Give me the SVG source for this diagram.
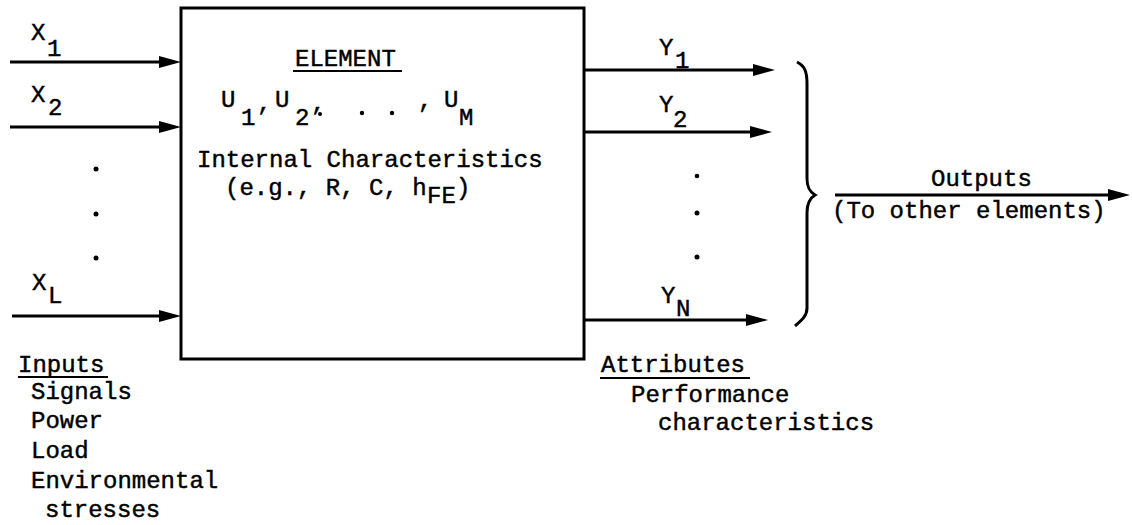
<svg xmlns="http://www.w3.org/2000/svg" width="1132" height="525" viewBox="0 0 1132 525">
  <style>
    .t { font-family: "Liberation Mono", "Courier New", monospace; font-size: 24px; fill: #000; stroke: #000; stroke-width: 0.45px; }
    .ln { stroke: #000; stroke-width: 3; fill: none; }
    .ul { stroke: #000; stroke-width: 2.2; }
    .dot { fill: #000; }
  </style>
  <defs>
    <marker id="ah" markerUnits="userSpaceOnUse" markerWidth="24" markerHeight="14" refX="10" refY="7" orient="auto">
      <path d="M0,1 L22,7 L0,13 Z" fill="#000"/>
    </marker>
  </defs>

  <rect width="1132" height="525" fill="#fff"/>

  <!-- the element block with its internal characteristics -->
  <g id="element">
    <rect x="181" y="8" width="403" height="351" class="ln"/>
    <text class="t" x="295" y="66">ELEMENT</text>
    <line class="ul" x1="293" y1="71" x2="402" y2="71"/>
    <text class="t" x="221" y="107">U</text>
    <text class="t" x="241" y="125">1’</text>
    <text class="t" x="275" y="107">U</text>
    <text class="t" x="295" y="125">2’</text>
    <circle class="dot" cx="320" cy="114" r="2"/>
    <circle class="dot" cx="362" cy="113" r="2.2"/>
    <circle class="dot" cx="392" cy="113" r="2.2"/>
    <text class="t" x="418" y="108">,</text>
    <text class="t" x="444" y="107">U</text>
    <text class="t" x="459" y="125">M</text>
    <text class="t" x="197" y="167">Internal Characteristics</text>
    <text class="t" x="225" y="195">(e.g., R, C, h</text>
    <text class="t" x="427" y="203">FE</text>
    <text class="t" x="456" y="195">)</text>
  </g>

  <!-- inputs on the left -->
  <g id="inputs">
    <text class="t" x="31" y="40">X</text>
    <text class="t" x="47" y="56">1</text>
    <text class="t" x="31" y="102">X</text>
    <text class="t" x="48" y="115">2</text>
    <circle class="dot" cx="96" cy="169" r="2.5"/>
    <circle class="dot" cx="96" cy="214" r="2.5"/>
    <circle class="dot" cx="96" cy="258" r="2.5"/>
    <text class="t" x="32" y="290">X</text>
    <text class="t" x="48" y="303">L</text>
    <text class="t" x="18" y="372">Inputs</text>
    <line class="ul" x1="18" y1="377" x2="108" y2="377"/>
    <text class="t" x="31" y="399">Signals</text>
    <text class="t" x="31" y="428">Power</text>
    <text class="t" x="31" y="458">Load</text>
    <text class="t" x="31" y="488">Environmental</text>
    <text class="t" x="45" y="517">stresses</text>
  </g>

  <!-- attributes on the right -->
  <g id="attributes">
    <text class="t" x="659" y="55">Y</text>
    <text class="t" x="675" y="68">1</text>
    <text class="t" x="659" y="112">Y</text>
    <text class="t" x="673" y="127">2</text>
    <circle class="dot" cx="697" cy="176" r="2.3"/>
    <circle class="dot" cx="697" cy="213" r="2.5"/>
    <circle class="dot" cx="697" cy="257" r="2.5"/>
    <text class="t" x="661" y="303">Y</text>
    <text class="t" x="676" y="316">N</text>
    <text class="t" x="601" y="372">Attributes</text>
    <line class="ul" x1="600" y1="378" x2="750" y2="378"/>
    <text class="t" x="631" y="402">Performance</text>
    <text class="t" x="658" y="430">characteristics</text>
  </g>

  <!-- brace gathering the attributes into outputs -->
  <g id="brace">
    <path class="ln" d="M797,62 C805,66 807,72 807,84 L807,178 C807,188 810,192 815,195 C810,198 807,203 807,213 L807,308 C807,316 802,320 795,326"/>
  </g>

  <g id="outputs">
    <text class="t" x="931" y="186">Outputs</text>
    <text class="t" x="832" y="218">(To other elements)</text>
  </g>

  <!-- connectors -->
  <g id="connectors">
    <line class="ln" x1="10" y1="62" x2="169" y2="62" marker-end="url(#ah)"/>
    <line class="ln" x1="10" y1="127" x2="169" y2="127" marker-end="url(#ah)"/>
    <line class="ln" x1="12" y1="316" x2="169" y2="316" marker-end="url(#ah)"/>
    <line class="ln" x1="584" y1="70" x2="763" y2="70" marker-end="url(#ah)"/>
    <line class="ln" x1="584" y1="132" x2="760" y2="132" marker-end="url(#ah)"/>
    <line class="ln" x1="584" y1="320" x2="756" y2="320" marker-end="url(#ah)"/>
    <line class="ln" x1="835" y1="195" x2="1118" y2="195" marker-end="url(#ah)"/>
  </g>
</svg>
